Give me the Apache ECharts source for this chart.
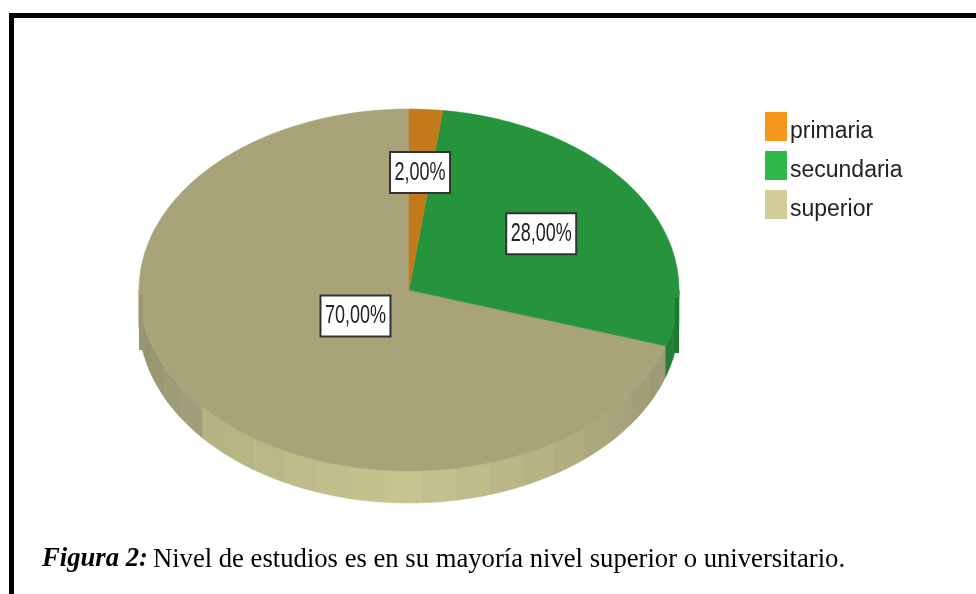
<!DOCTYPE html>
<html>
<head>
<meta charset="utf-8">
<title>Nivel de estudios</title>
<script src="https://cdn.jsdelivr.net/npm/echarts@6/dist/echarts.min.js"></script>
<style>
	html, body { margin: 0; padding: 0; background: #fff; }
	#main { width: 976px; height: 594px; }
</style>
</head>
<body>
<div id="main"></div>
<script>
	const categories = ['primaria', 'secundaria', 'superior'];
	const shares = [2, 28, 70];

	// colores: leyenda, cara superior, pared
	const legendColors = ['#f7981d', '#2db84a', '#d2cd96'];
	const topColors = ['#c27a1a', '#26943c', '#a9a379'];

	// elipse de la tarta (la foto original esta aplastada en 3D)
	const cx = 409, cy = 290, rx = 270, ry = 181;
	const lowCy = 320, lowRy = 183;
	const facet = 7.5, facetOffset = 5;
	const labelReach = [0.65, 0.58, 0.245];

	function topPoint(a) {
		let r = a * Math.PI / 180;
		return [cx + rx * Math.sin(r), cy - ry * Math.cos(r)];
	}
	function lowPoint(a) {
		let r = a * Math.PI / 180;
		return [cx + rx * Math.sin(r), lowCy - lowRy * Math.cos(r)];
	}

	function wallColor(idx, a) {
		if (idx == 1) return echarts.color.lerp((a - 90) / 18, ['#1c7a2e', '#1f8233']);
		if (a <= 180) return echarts.color.lerp((180 - a) / 72, ['#c8c48f', '#9a9673']);
		if (a <= 230) return echarts.color.lerp((a - 180) / 50, ['#c8c48f', '#b3b082']);
		return echarts.color.lerp((a - 230) / 40, ['#a3a17b', '#8f8e6c']);
	}

	function renderSlice(params, api) {
		let idx = params.seriesIndex;
		let start = api.value(0) * 3.6;
		let end = start + api.value(1) * 3.6;
		let kids = [];

		// pared visible, solo la mitad de abajo
		let a0 = Math.max(start, 90), a1 = Math.min(end, 270);
		let a = a0;
		while (a < a1) {
			let b = Math.min(a1, facetOffset + (Math.floor((a - facetOffset) / facet + 1e-6) + 1) * facet);
			let pts = [];
			for (let t = a; t < b; t += 1.5) pts.push(topPoint(t));
			pts.push(topPoint(b));
			for (let t = b; t > a; t -= 1.5) pts.push(lowPoint(t));
			pts.push(lowPoint(a));
			let c = wallColor(idx, (a + b) / 2);
			kids.push({
				type: 'polygon',
				shape: { points: pts },
				style: { fill: c, stroke: c, lineWidth: 0.6 }
			});
			a = b;
		}

		// cara superior
		let face = [[cx, cy]];
		for (let t = start; t < end; t += 1) face.push(topPoint(t));
		face.push(topPoint(end));
		kids.push({
			type: 'polygon',
			shape: { points: face },
			style: { fill: topColors[idx], stroke: topColors[idx], lineWidth: 0.5 }
		});

		// franja lateral que se ve en los extremos
		if (start <= 90 && end >= 90) {
			kids.push({
				type: 'rect',
				shape: { x: cx + rx - 4, y: cy + 8, width: 4, height: 55 },
				style: { fill: '#1c7a2e' }
			});
		}
		if (start <= 270 && end >= 270) {
			kids.push({
				type: 'rect',
				shape: { x: cx - rx, y: cy + 5, width: 4, height: 55 },
				style: { fill: '#9a9873' }
			});
		}

		// etiqueta
		let mid = (start + end) / 2 * Math.PI / 180;
		let lx = cx + rx * labelReach[idx] * Math.sin(mid);
		let ly = cy - ry * labelReach[idx] * Math.cos(mid);
		let text = api.value(1).toFixed(2).replace('.', ',') + '%';
		let w = text.length * 10 + 10, h = 41;
		kids.push({
			type: 'rect',
			shape: { x: lx - w / 2, y: ly - h / 2, width: w, height: h },
			style: { fill: '#fff', stroke: '#333', lineWidth: 2 }
		});
		kids.push({
			type: 'text',
			x: lx,
			y: ly,
			scaleY: 1.4,
			style: {
				text: text,
				x: 0,
				y: 0,
				align: 'center',
				verticalAlign: 'middle',
				fill: '#222',
				font: '18px "Liberation Sans"'
			}
		});
		return { type: 'group', children: kids };
	}

	let main = echarts.init(document.getElementById('main'), null, { renderer: 'canvas' });
	var option;
	let acc = 0;
	let series = categories.map((name, i) => {
		let s = {
			name: name,
			type: 'custom',
			coordinateSystem: 'none',
			renderItem: renderSlice,
			silent: true,
			animation: false,
			z: 10 - i,
			itemStyle: { color: legendColors[i] },
			data: [[acc, shares[i]]]
		};
		acc += shares[i];
		return s;
	});

	option = {
		backgroundColor: '#fff',
		animation: false,
		color: legendColors,
		legend: {
			orient: 'vertical',
			left: 765,
			top: 112,
			padding: 0,
			icon: 'rect',
			itemWidth: 22,
			itemHeight: 29,
			itemGap: 8,
			selectedMode: false,
			formatter: '{t|{name}}',
			textStyle: {
				rich: {
					t: {
						fontFamily: '"Liberation Sans"',
						fontSize: 23,
						color: '#222',
						padding: [10, 0, 0, -2]
					}
				}
			},
			data: categories
		},
		title: {
			left: 42,
			top: 546,
			padding: 0,
			text: '{b|Figura 2:} {r|Nivel de estudios es en su mayoría nivel superior o universitario.}',
			textStyle: {
				fontWeight: 'normal',
				rich: {
					b: { fontFamily: '"Liberation Serif"', fontSize: 26.67, fontStyle: 'italic', fontWeight: 'bold', color: '#000' },
					r: { fontFamily: '"Liberation Serif"', fontSize: 26.67, fontWeight: 'normal', color: '#000' }
				}
			}
		},
		graphic: [
			{
				type: 'polyline',
				shape: { points: [[11.5, 594], [11.5, 15.5], [976, 15.5]] },
				style: { stroke: '#000', lineWidth: 5, fill: null }
			}
		],
		series: series
	};
	main.setOption(option);
</script>
</body>
</html>
